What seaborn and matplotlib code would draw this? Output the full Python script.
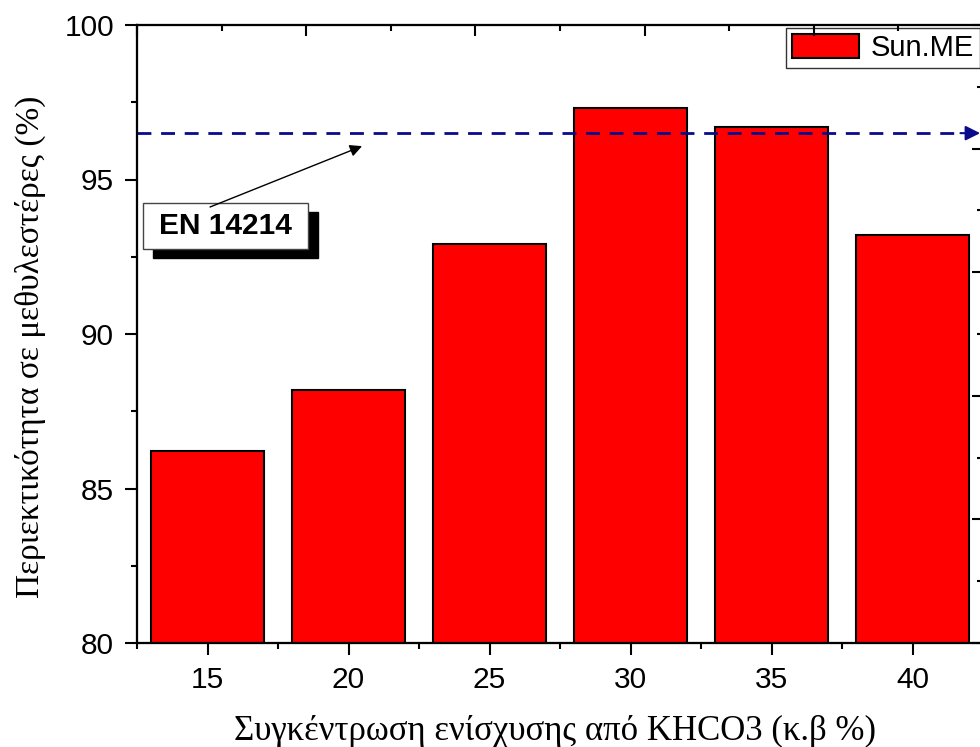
import matplotlib
matplotlib.use("Agg")
import matplotlib.pyplot as plt
import seaborn as sns
import pandas as pd
from matplotlib.ticker import MultipleLocator
from matplotlib.patches import Rectangle

# ---- data ----
concentration = [15, 20, 25, 30, 35, 40]
methyl_ester = [86.2, 88.2, 92.9, 97.3, 96.7, 93.2]
en14214_limit = 96.5
series_name = "Sun.ME"
limit_label = "EN 14214"
x_label = "Συγκέντρωση ενίσχυσης από KHCO3 (κ.β %)"
y_label = "Περιεκτικότητα σε μεθυλεστέρες (%)"
x_ticks = [15, 20, 25, 30, 35, 40]
y_ticks = [80, 85, 90, 95, 100]

df = pd.DataFrame({"conc": concentration, "me": methyl_ester})

sns.set_style("ticks")
plt.rcParams['font.family'] = ['Liberation Sans', 'DejaVu Sans']
plt.rcParams['axes.linewidth'] = 1.5
for key in ['text.color', 'axes.labelcolor', 'xtick.color', 'ytick.color', 'axes.edgecolor']:
    plt.rcParams[key] = 'black'

fig = plt.figure(figsize=(9.8, 7.47), dpi=100)
ax = fig.add_axes([137/980, 1-643/747, (983-137)/980, (643-25)/747])

sns.barplot(data=df, x="conc", y="me", native_scale=True, color="#ff0000",
            saturation=1, width=0.8, edgecolor="black", linewidth=1.5,
            label=series_name, ax=ax, zorder=2)

ax.set_xlim(12.5, 42.5)
ax.set_ylim(80, 100)
ax.set_xticks(x_ticks)
ax.set_yticks(y_ticks)
ax.xaxis.set_minor_locator(MultipleLocator(2.5))
ax.yaxis.set_minor_locator(MultipleLocator(2.5))
ax.tick_params(axis='both', which='major', direction='out', length=8.5, width=1.5,
               labelsize=21.5, pad=8, colors='black')
ax.tick_params(axis='both', which='minor', direction='out', length=4.5, width=1.5,
               colors='black')
for s in ax.spines.values():
    s.set_visible(True)
    s.set_linewidth(1.5)
    s.set_color('black')

ax.set_xlabel(x_label, family=['Liberation Serif', 'DejaVu Serif'], fontsize=25, color='black')
ax.set_ylabel(y_label, family=['Liberation Serif', 'DejaVu Serif'], fontsize=24, color='black')
ax.xaxis.set_label_coords(0.494, -0.116)
ax.yaxis.set_label_coords(-0.107, 0.479)

# dashed limit line with arrow head
ax.plot([12.5, 41.75], [en14214_limit, en14214_limit], color="#0a0a8c", lw=2,
        linestyle=(0, (5, 3.5)), zorder=3)
ax.annotate("", xy=(42.4, en14214_limit), xytext=(41.7, en14214_limit),
            arrowprops=dict(arrowstyle='-|>', color="#0a0a8c", lw=1.5,
                            mutation_scale=22, shrinkA=0, shrinkB=0),
            zorder=3, annotation_clip=False)

# EN 14214 label box with shadow
bx0, bx1, by0, by1 = 12.71, 18.56, 92.75, 94.24
dx, dy = 0.355, -0.29
ax.add_patch(Rectangle((bx0 + dx, by0 + dy), bx1 - bx0, by1 - by0, facecolor='black',
                       edgecolor='black', zorder=4))
ax.add_patch(Rectangle((bx0, by0), bx1 - bx0, by1 - by0, facecolor='white',
                       edgecolor='#444444', lw=1, zorder=5))
ax.text((bx0 + bx1) / 2, (by0 + by1) / 2, limit_label, ha='center', va='center',
        fontsize=21.5, fontweight='bold', color='black', zorder=6)
ax.annotate("", xy=(20.48, 96.08), xytext=(15.09, 94.11),
            arrowprops=dict(arrowstyle='-|>', color='black', lw=1,
                            mutation_scale=18, shrinkA=0, shrinkB=0),
            zorder=6)

leg = ax.legend(loc='upper right', frameon=True, fancybox=False, fontsize=21,
                borderaxespad=0.1, handlelength=2.3, handleheight=0.9,
                handletextpad=0.4, borderpad=0.2, labelcolor='black')
leg.get_frame().set_edgecolor('black')
leg.get_frame().set_linewidth(1)
leg.set_zorder(10)

# secondary top / right axes (ticks only)
axt = ax.twiny()
axt.set_xlim(0, 5)
axt.xaxis.set_major_locator(MultipleLocator(1))
axt.xaxis.set_minor_locator(MultipleLocator(0.5))
axt.tick_params(axis='x', which='major', direction='in', length=8, width=1.5, labeltop=False)
axt.tick_params(axis='x', which='minor', direction='in', length=4, width=1.5)
axr = ax.twinx()
axr.set_ylim(0, 5)
axr.yaxis.set_major_locator(MultipleLocator(1))
axr.yaxis.set_minor_locator(MultipleLocator(0.5))
axr.tick_params(axis='y', which='major', direction='in', length=8, width=1.5, labelright=False)
axr.tick_params(axis='y', which='minor', direction='in', length=4, width=1.5)
for a in (axt, axr):
    for s in a.spines.values():
        s.set_linewidth(1.5)
        s.set_color('black')

fig.savefig("out.png", dpi=100)
